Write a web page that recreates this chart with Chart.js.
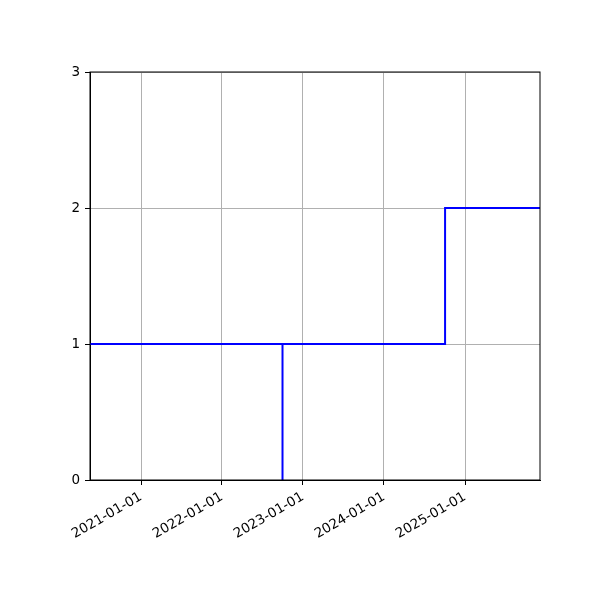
<!DOCTYPE html>
<html>
<head>
<meta charset="utf-8">
<script src="https://cdn.jsdelivr.net/npm/chart.js@4"></script>
<style>
  html, body { margin: 0; padding: 0; background: #fff; }
  #wrap { width: 600px; height: 600px; }
</style>
</head>
<body>
<div id="wrap"><canvas id="stepChart"></canvas></div>
<script>
// step data (dates and values)
const stepDates = ['2019-06-01', '2022-10-01', '2022-10-01', '2024-10-03', '2026-06-01'];
const stepValues = [1, 0, 1, 2, 2];
const tickYears = [2021, 2022, 2023, 2024, 2025];
const yTicks = [0, 1, 2, 3];
const xMinDate = '2020-05-16';
const xMaxDate = '2025-12-05';

const toMs = (s) => Date.parse(s + 'T00:00:00Z');
const pad2 = (n) => String(n).padStart(2, '0');
function fmtDate(ms) {
  const d = new Date(ms);
  return d.getUTCFullYear() + '-' + pad2(d.getUTCMonth() + 1) + '-' + pad2(d.getUTCDate());
}

const points = stepDates.map((d, i) => ({ x: toMs(d), y: stepValues[i] }));

// draws the full box round the plot area
const frameBox = {
  id: 'frameBox',
  afterDraw(chart) {
    const a = chart.chartArea;
    const c = chart.ctx;
    c.save();
    c.strokeStyle = '#000';
    c.lineWidth = 1;
    c.strokeRect(a.left, a.top, a.right - a.left, a.bottom - a.top);
    c.restore();
  }
};

Chart.defaults.font.family = 'DejaVu Sans';
Chart.defaults.font.size = 13.5;
Chart.defaults.color = '#000';

let ctx = document.getElementById('stepChart').getContext('2d');
let myChart = new Chart(ctx, {
  type: 'line',
  data: {
    datasets: [{
      data: points,
      borderColor: '#0000ff',
      borderWidth: 2,
      stepped: true,
      pointRadius: 0,
      fill: false
    }]
  },
  options: {
    responsive: true,
    maintainAspectRatio: false,
    animation: false,
    layout: { padding: { top: 72, right: 60, left: 0, bottom: 0 } },
    plugins: { legend: { display: false }, tooltip: { enabled: false } },
    scales: {
      x: {
        type: 'linear',
        min: toMs(xMinDate),
        max: toMs(xMaxDate),
        afterBuildTicks: (scale) => {
          scale.ticks = tickYears.map(y => ({ value: Date.UTC(y, 0, 1) }));
        },
        afterFit: (scale) => { scale.height = 120; },
        ticks: {
          minRotation: 30,
          maxRotation: 30,
          padding: 4,
          callback: (v) => fmtDate(v)
        },
        grid: { color: '#b0b0b0', lineWidth: 1, tickColor: '#000', tickLength: 5 },
        border: { color: '#000' }
      },
      y: {
        min: 0,
        max: 3,
        afterBuildTicks: (scale) => {
          scale.ticks = yTicks.map(v => ({ value: v }));
        },
        afterFit: (scale) => { scale.width = 90; },
        ticks: { padding: 5 },
        grid: { color: '#b0b0b0', lineWidth: 1, tickColor: '#000', tickLength: 5 },
        border: { color: '#000' }
      }
    }
  },
  plugins: [frameBox]
});
</script>
</body>
</html>
